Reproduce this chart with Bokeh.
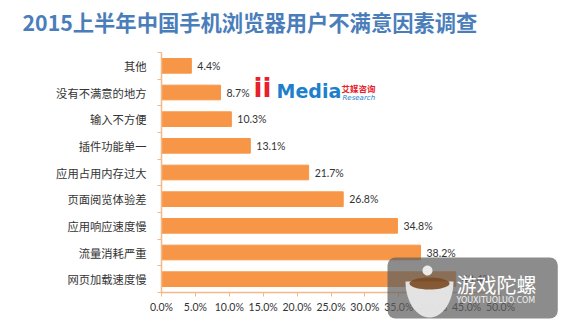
import numpy as np
from bokeh.plotting import figure
from bokeh.models import (Range1d, FixedTicker, ColumnDataSource, Label, LabelSet,
                          LinearAxis, PolyAnnotation)
from bokeh.core.properties import value
from bokeh.embed import file_html
from bokeh.resources import INLINE

# data (top to bottom as in the chart)
categories = ["其他", "没有不满意的地方", "输入不方便", "插件功能单一", "应用占用内存过大",
              "页面阅览体验差", "应用响应速度慢", "流量消耗严重", "网页加载速度慢"]
values = [4.4, 8.7, 10.3, 13.1, 21.7, 26.8, 34.8, 38.2, 43.4]
x_ticks = [0, 5, 10, 15, 20, 25, 30, 35, 40, 45, 50]
x_tick_labels = ["%.1f%%" % t for t in x_ticks]
title_text = "2015上半年中国手机浏览器用户不满意因素调查"

FONT = "Noto Sans CJK SC"
NUMFONT = "Lato"
W, H = 572, 330
n = len(categories)
ypos = [n - 1 - i for i in range(n)]
labels = ["%.1f%%" % v for v in values]

# plot area geometry (pixels): value axis 0..50 spans x 161..500, categories span y 52..292
PX0, PX1, PY0, PY1 = 161, 500, 52, 292
xmax = x_ticks[-1]
sx = (PX1 - PX0) / xmax
sy = (PY1 - PY0) / n
x_start = -PX0 / sx
x_end = x_start + W / sx
y_start = -0.5 - (H - PY1) / sy
y_end = y_start + H / sy

src = ColumnDataSource(dict(y=ypos, v=values, lab=labels, cat=categories))

p = figure(width=W, height=H, output_backend="svg", toolbar_location=None,
           x_range=Range1d(x_start, x_end), y_range=Range1d(y_start, y_end),
           x_axis_location=None, y_axis_location=None, min_border=0)
p.outline_line_color = None
p.xgrid.visible = False
p.ygrid.visible = False
p.background_fill_color = "white"
p.border_fill_color = "white"

p.hbar(y="y", right="v", left=0, height=0.55, source=src, color="#F79646")

p.add_layout(LabelSet(x="v", y="y", text="lab", source=src, x_offset=6,
                      text_baseline="middle", text_align="left",
                      text_font=value(NUMFONT), text_font_size="10.5px", text_color="#333333"))

AX = "#F5B987"
# x axis
xa = LinearAxis(fixed_location=-0.5, bounds=(0, xmax))
xa.ticker = FixedTicker(ticks=x_ticks)
xa.major_label_overrides = {t: l for t, l in zip(x_ticks, x_tick_labels)}
xa.axis_line_color = AX
xa.axis_line_width = 1.5
xa.major_tick_line_color = AX
xa.major_tick_in = 0
xa.major_tick_out = 4
xa.minor_tick_line_color = None
xa.major_label_text_font = NUMFONT
xa.major_label_text_font_size = "10.5px"
xa.major_label_text_color = "#333333"
xa.major_label_standoff = 4
p.add_layout(xa, "below")

# y axis
ya = LinearAxis(fixed_location=0, bounds=(-0.5, n - 0.5))
ya.ticker = FixedTicker(ticks=ypos, minor_ticks=[k - 0.5 for k in range(n + 1)])
ya.major_label_overrides = {y: c for y, c in zip(ypos, categories)}
ya.axis_line_color = AX
ya.axis_line_width = 1.5
ya.major_tick_line_color = None
ya.minor_tick_line_color = AX
ya.minor_tick_in = 0
ya.minor_tick_out = 4
ya.major_label_text_font = FONT
ya.major_label_text_font_size = "11.3px"
ya.major_label_text_color = "#333333"
ya.major_label_standoff = 9
p.add_layout(ya, "left")

# title
p.add_layout(Label(x=22, y=H - 21, x_units="screen", y_units="screen", text=title_text,
                   text_font=FONT, text_font_size="21.3px", text_font_style="bold",
                   text_color="#4A7EBB", text_baseline="middle"))

# iiMedia logo
p.add_layout(Label(x=253, y=H - 102, x_units="screen", y_units="screen", text="ii",
                   text_font="DejaVu Sans", text_font_size="26px", text_font_style="bold",
                   text_color="#E8202A"))
p.add_layout(Label(x=276, y=H - 101, x_units="screen", y_units="screen", text="Media",
                   text_font="DejaVu Sans", text_font_size="19px", text_font_style="bold",
                   text_color="#1E7FCC"))
p.add_layout(Label(x=341, y=H - 93, x_units="screen", y_units="screen", text="艾媒咨询",
                   text_font=FONT, text_font_size="8.5px", text_font_style="bold",
                   text_color="#E8202A"))
p.add_layout(Label(x=342, y=H - 101, x_units="screen", y_units="screen", text="Research",
                   text_font="DejaVu Sans", text_font_size="7px", text_font_style="italic",
                   text_color="#1E7FCC"))

# watermark box
p.add_layout(Label(x=387, y=H - 318, x_units="screen", y_units="screen", text=" ",
                   text_font_size="1px", background_fill_color="#5F5F5F",
                   background_fill_alpha=0.72, border_radius=8,
                   padding=dict(left=85, right=85, top=30, bottom=30)))
# watermark icon
t = np.linspace(0, np.pi, 30)
bowl_x = list(429 + 24 * np.cos(t))
bowl_y = list(H - (281 + 36 * np.sin(t)))
p.add_layout(PolyAnnotation(xs=bowl_x, ys=bowl_y, xs_units="screen", ys_units="screen",
                            fill_color="#E8E8E8", fill_alpha=0.95, line_color=None))
t2 = np.linspace(0, 2 * np.pi, 40)
p.add_layout(PolyAnnotation(xs=list(429 + 20 * np.cos(t2)), ys=list(H - (283 + 6 * np.sin(t2))),
                            xs_units="screen", ys_units="screen",
                            fill_color="#7A4A22", fill_alpha=0.9, line_color=None))
p.add_layout(PolyAnnotation(xs=list(427 + 5 * np.cos(t2)), ys=list(H - (270 + 5 * np.sin(t2))),
                            xs_units="screen", ys_units="screen",
                            fill_color="#F0F0F0", fill_alpha=0.95, line_color=None))
p.add_layout(Label(x=456, y=H - 283.5, x_units="screen", y_units="screen", text="游戏陀螺",
                   text_font=FONT, text_font_size="20px", text_color="white",
                   text_baseline="middle"))
p.add_layout(Label(x=456, y=H - 300, x_units="screen", y_units="screen", text="YOUXITUOLUO.COM",
                   text_font="DejaVu Sans", text_font_size="8px", text_color="#F0F0F0",
                   text_baseline="middle"))

open("out.html", "w").write(file_html(p, INLINE))
